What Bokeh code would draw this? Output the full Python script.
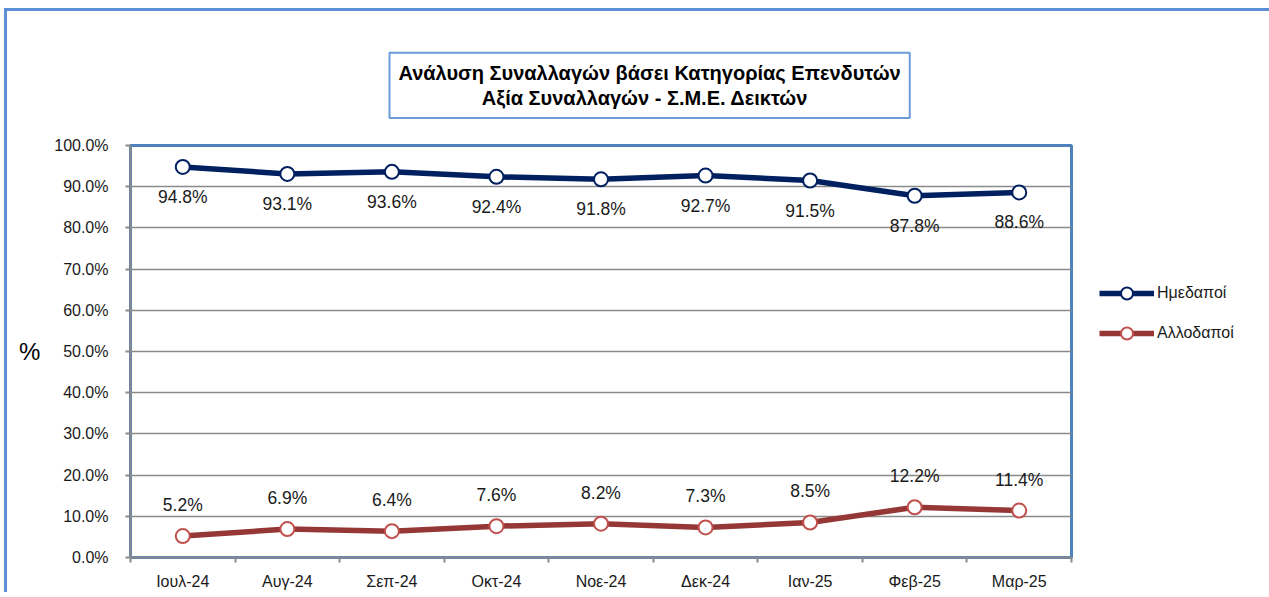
from bokeh.plotting import figure
from bokeh.models import (Range1d, FixedTicker, PrintfTickFormatter, Title,
                          LabelSet, ColumnDataSource, Legend, LegendItem)
from bokeh.embed import file_html
from bokeh.resources import INLINE
from bokeh.core.properties import value

# ---- data ----
months = ["Ιουλ-24", "Αυγ-24", "Σεπ-24", "Οκτ-24", "Νοε-24",
          "Δεκ-24", "Ιαν-25", "Φεβ-25", "Μαρ-25"]
domestic = [94.8, 93.1, 93.6, 92.4, 91.8, 92.7, 91.5, 87.8, 88.6]
foreign = [5.2, 6.9, 6.4, 7.6, 8.2, 7.3, 8.5, 12.2, 11.4]
series_names = ["Ημεδαποί", "Αλλοδαποί"]
y_ticks = [0, 10, 20, 30, 40, 50, 60, 70, 80, 90, 100]
title_lines = ["Ανάλυση Συναλλαγών βάσει Κατηγορίας Επενδυτών",
               "Αξία Συναλλαγών - Σ.Μ.Ε. Δεικτών"]
y_unit = "%"

FONT = "Liberation Sans"
GRAY = "#8a8a8a"
NAVY = "#002060"
RED = "#953735"
RED_MK = "#C0504D"
FRAME_BLUE = "#4F81BD"
TXT = "#1a1a1a"

n = len(months)
xs = list(range(n))

p = figure(frame_width=941, frame_height=412,
           output_backend="svg", toolbar_location=None,
           x_range=Range1d(-0.5, n - 0.5), y_range=Range1d(0, 100),
           min_border_left=123, min_border_right=193,
           min_border_top=134, min_border_bottom=35, title=None)
p.styles = {"margin-left": "4px", "margin-top": "8px",
            "border-top": "3px solid #5B8FD6", "border-left": "3px solid #5B8FD6"}
p.background_fill_color = "white"
p.border_fill_color = "white"
p.outline_line_color = FRAME_BLUE
p.outline_line_width = 3

# grid
p.xgrid.visible = False
p.ygrid.ticker = FixedTicker(ticks=y_ticks)
p.ygrid.grid_line_color = GRAY
p.ygrid.grid_line_width = 1.5

# y axis
p.yaxis.ticker = FixedTicker(ticks=y_ticks)
p.yaxis.formatter = PrintfTickFormatter(format="%.1f%%")
p.yaxis.axis_line_color = GRAY
p.yaxis.axis_line_width = 2
p.yaxis.major_tick_line_color = GRAY
p.yaxis.major_tick_line_width = 2
p.yaxis.major_tick_out = 5
p.yaxis.major_tick_in = 0
p.yaxis.minor_tick_line_color = None
p.yaxis.major_label_standoff = 17
p.yaxis.major_label_text_font = FONT
p.yaxis.major_label_text_font_size = "16px"
p.yaxis.major_label_text_color = TXT
p.yaxis.axis_label = y_unit
p.yaxis.axis_label_orientation = "horizontal"
p.yaxis.axis_label_standoff = 11
p.yaxis.axis_label_text_font = FONT
p.yaxis.axis_label_text_font_size = "24px"
p.yaxis.axis_label_text_font_style = "normal"
p.yaxis.axis_label_text_color = "black"

# x axis: labels at category centres, ticks at boundaries
boundaries = [i - 0.5 for i in range(n + 1)]
p.xaxis.ticker = FixedTicker(ticks=xs, minor_ticks=boundaries)
p.xaxis.major_label_overrides = {i: m for i, m in zip(xs, months)}
p.xaxis.axis_line_color = GRAY
p.xaxis.axis_line_width = 2
p.xaxis.major_tick_line_color = None
p.xaxis.major_tick_out = 0
p.xaxis.major_tick_in = 0
p.xaxis.minor_tick_line_color = GRAY
p.xaxis.minor_tick_line_width = 2
p.xaxis.minor_tick_out = 5
p.xaxis.minor_tick_in = 0
p.xaxis.major_label_standoff = 10
p.xaxis.major_label_text_font = FONT
p.xaxis.major_label_text_font_size = "16px"
p.xaxis.major_label_text_color = TXT

# series
src = ColumnDataSource(dict(
    x=xs, dom=domestic, fo=foreign,
    dom_txt=[f"{v:.1f}%" for v in domestic],
    fo_txt=[f"{v:.1f}%" for v in foreign]))

l1 = p.line("x", "dom", source=src, line_color=NAVY, line_width=5.5)
s1 = p.scatter("x", "dom", source=src, size=14, fill_color="white",
               line_color=NAVY, line_width=2)
l2 = p.line("x", "fo", source=src, line_color=RED, line_width=5.5)
s2 = p.scatter("x", "fo", source=src, size=14, fill_color="white",
               line_color=RED_MK, line_width=2)

p.add_layout(LabelSet(x="x", y="dom", text="dom_txt", source=src,
                      y_offset=-30, text_align="center", text_baseline="middle",
                      text_font=value(FONT), text_font_size="17.5px",
                      text_color=TXT))
p.add_layout(LabelSet(x="x", y="fo", text="fo_txt", source=src,
                      y_offset=31, text_align="center", text_baseline="middle",
                      text_font=value(FONT), text_font_size="17.5px",
                      text_color=TXT))

# legend in the right panel
lg = Legend(items=[LegendItem(label=series_names[0], renderers=[l1, s1]),
                   LegendItem(label=series_names[1], renderers=[l2, s2])],
            location="top_left", orientation="vertical", padding=0, margin=28,
            title=" ", title_text_font_size="1px", title_standoff=104,
            spacing=10, glyph_width=55, glyph_height=30, label_standoff=3,
            border_line_color=None, background_fill_alpha=0,
            label_text_font=FONT, label_text_font_size="16px",
            label_text_color=TXT)
p.add_layout(lg, "right")

# title box (second line centred under the first)
pad = "\u00a0" * 15
t = Title(text=title_lines[0] + "\n" + pad + title_lines[1],
          align="left", offset=259, standoff=55,
          text_font=FONT, text_font_size="20px", text_font_style="bold",
          text_color="black", text_line_height=1.15,
          border_line_color="#6A9BD8", border_line_width=2,
          background_fill_color="white", padding=9)
p.add_layout(t, "above")

open("out.html", "w").write(file_html(p, INLINE))
